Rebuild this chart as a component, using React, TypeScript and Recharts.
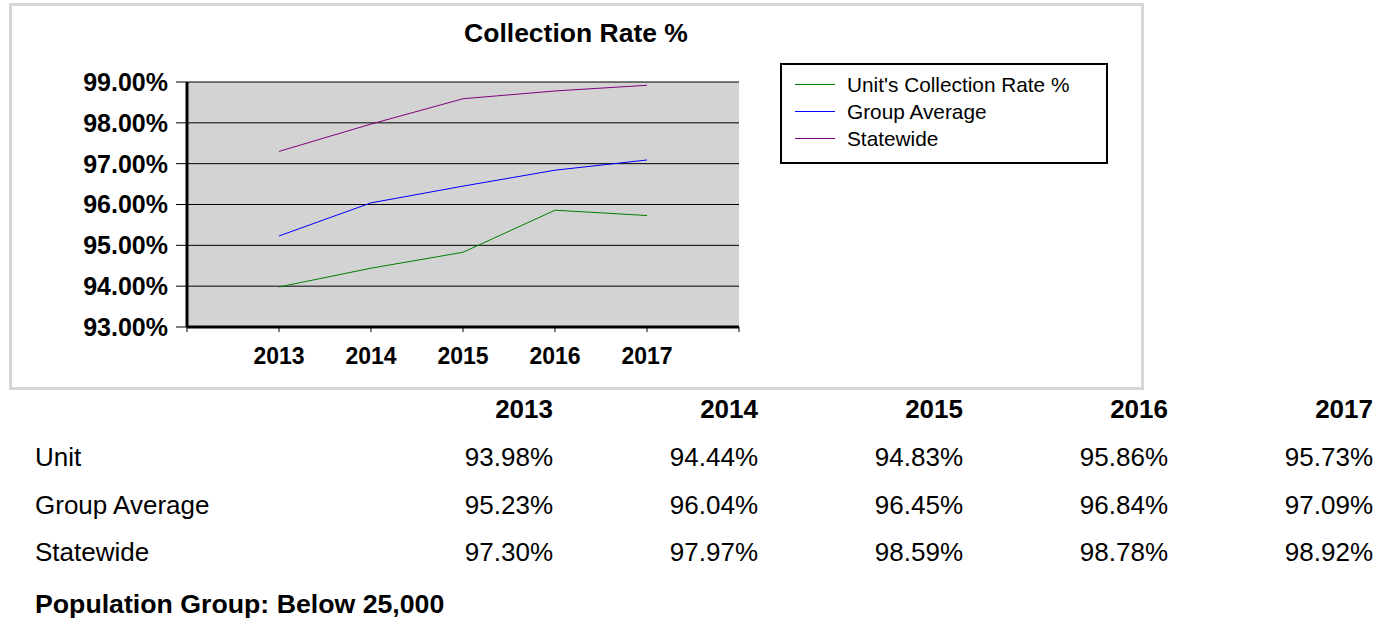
import React from "react";
import {
  LineChart,
  Line,
  XAxis,
  YAxis,
  CartesianGrid,
  Legend,
} from "recharts";

const years = [2013, 2014, 2015, 2016, 2017];
const unitRate = [93.98, 94.44, 94.83, 95.86, 95.73];
const groupAverage = [95.23, 96.04, 96.45, 96.84, 97.09];
const statewide = [97.3, 97.97, 98.59, 98.78, 98.92];
const yTicks = [93, 94, 95, 96, 97, 98, 99];
const xTicks = [2012, 2013, 2014, 2015, 2016, 2017, 2018];
const seriesNames = ["Unit's Collection Rate %", "Group Average", "Statewide"];
const seriesColors = ["#008000", "#0000ff", "#800080"];
const tableRowNames = ["Unit", "Group Average", "Statewide"];
const title = "Collection Rate %";
const footer = "Population Group: Below 25,000";

const data = years.map((y, i) => ({
  year: y,
  unit: unitRate[i],
  group: groupAverage[i],
  state: statewide[i],
}));

const FONT = "'Liberation Sans', Arial, Helvetica, sans-serif";

const LegendBox = (props: any) => {
  const payload = [...(props.payload || [])].sort(
    (a: any, b: any) => seriesNames.indexOf(a.value) - seriesNames.indexOf(b.value)
  );
  return (
    <div
      style={{
        boxSizing: "border-box",
        width: 328,
        height: 101,
        border: "2px solid #000",
        background: "#fff",
        paddingTop: 6,
        fontFamily: FONT,
      }}
    >
      {payload.map((p: any, i: number) => {
        const idx = seriesNames.indexOf(p.value);
        const col = idx >= 0 ? seriesColors[idx] : p.color;
        return (
          <div
            key={i}
            style={{ display: "flex", alignItems: "center", height: 27 }}
          >
            <svg width={40} height={3} style={{ marginLeft: 13, display: "block" }}>
              <line x1={0} y1={1.5} x2={40} y2={1.5} stroke={col} strokeWidth={1} />
            </svg>
            <span style={{ marginLeft: 12, fontSize: 20.8, color: "#000" }}>
              {p.value}
            </span>
          </div>
        );
      })}
    </div>
  );
};

const tableValues = [unitRate, groupAverage, statewide];

export default function App() {
  return (
    <div
      style={{
        position: "absolute",
        left: 0,
        top: 0,
        width: 1380,
        height: 629,
        background: "#fff",
        fontFamily: FONT,
        color: "#000",
      }}
    >
      <div
        style={{
          position: "absolute",
          left: 9,
          top: 3,
          width: 1135,
          height: 387,
          boxSizing: "border-box",
          border: "3px solid #d6d6d6",
        }}
      />
      <div
        style={{
          position: "absolute",
          left: 326,
          width: 500,
          top: 17,
          lineHeight: "32px",
          textAlign: "center",
          fontWeight: "bold",
          fontSize: 26.5,
        }}
      >
        {title}
      </div>
      <div style={{ position: "absolute", left: 0, top: 0 }}>
        <LineChart
          width={1140}
          height={390}
          data={data}
          margin={{ top: 82, right: 401, bottom: 13, left: 87 }}
        >
          <CartesianGrid
            fill="#d3d3d3"
            vertical={false}
            horizontal={true}
            stroke="#000"
            strokeWidth={1}
          />
          <XAxis
            dataKey="year"
            type="number"
            domain={[2012, 2018]}
            ticks={xTicks}
            tickFormatter={(v: number) =>
              years.includes(v) ? String(v) : ""
            }
            height={50}
            tickSize={5}
            tickMargin={16}
            axisLine={{ stroke: "#000", strokeWidth: 3 }}
            tickLine={{ stroke: "#000" }}
            tick={{
              fill: "#000",
              fontSize: 23,
              fontWeight: "bold",
              fontFamily: FONT,
            }}
            interval={0}
          />
          <YAxis
            domain={[93, 99]}
            ticks={yTicks}
            tickFormatter={(v: number) => v.toFixed(2) + "%"}
            width={100}
            tickSize={11}
            tickMargin={8}
            axisLine={{ stroke: "#000", strokeWidth: 3 }}
            tickLine={{ stroke: "#000" }}
            tick={{
              fill: "#000",
              fontSize: 25,
              fontWeight: "bold",
              fontFamily: FONT,
            }}
            interval={0}
          />
          <Line
            dataKey="unit"
            name={seriesNames[0]}
            stroke={seriesColors[0]}
            strokeWidth={1}
            dot={false}
            isAnimationActive={false}
          />
          <Line
            dataKey="group"
            name={seriesNames[1]}
            stroke={seriesColors[1]}
            strokeWidth={1}
            dot={false}
            isAnimationActive={false}
          />
          <Line
            dataKey="state"
            name={seriesNames[2]}
            stroke={seriesColors[2]}
            strokeWidth={1}
            dot={false}
            isAnimationActive={false}
          />
          <Legend
            layout="vertical"
            align="center"
            verticalAlign="middle"
            content={<LegendBox />}
            wrapperStyle={{
              position: "absolute",
              left: 780,
              top: 63,
              width: 328,
              height: 101,
            }}
          />
        </LineChart>
      </div>
      {years.map((y, i) => (
        <div
          key={"h" + y}
          style={{
            position: "absolute",
            left: 553 + i * 205 - 200,
            width: 200,
            top: 394,
            lineHeight: "30px",
            textAlign: "right",
            fontWeight: "bold",
            fontSize: 26,
          }}
        >
          {y}
        </div>
      ))}
      {tableRowNames.map((name, r) => (
        <React.Fragment key={name}>
          <div
            style={{
              position: "absolute",
              left: 35,
              top: 442 + r * 47.5,
              lineHeight: "30px",
              fontSize: 26,
            }}
          >
            {name}
          </div>
          {tableValues[r].map((v, i) => (
            <div
              key={i}
              style={{
                position: "absolute",
                left: 553 + i * 205 - 200,
                width: 200,
                top: 442 + r * 47.5,
                lineHeight: "30px",
                textAlign: "right",
                fontSize: 26,
              }}
            >
              {v.toFixed(2) + "%"}
            </div>
          ))}
        </React.Fragment>
      ))}
      <div
        style={{
          position: "absolute",
          left: 35,
          top: 589,
          lineHeight: "30px",
          fontWeight: "bold",
          fontSize: 26.7,
        }}
      >
        {footer}
      </div>
    </div>
  );
}
